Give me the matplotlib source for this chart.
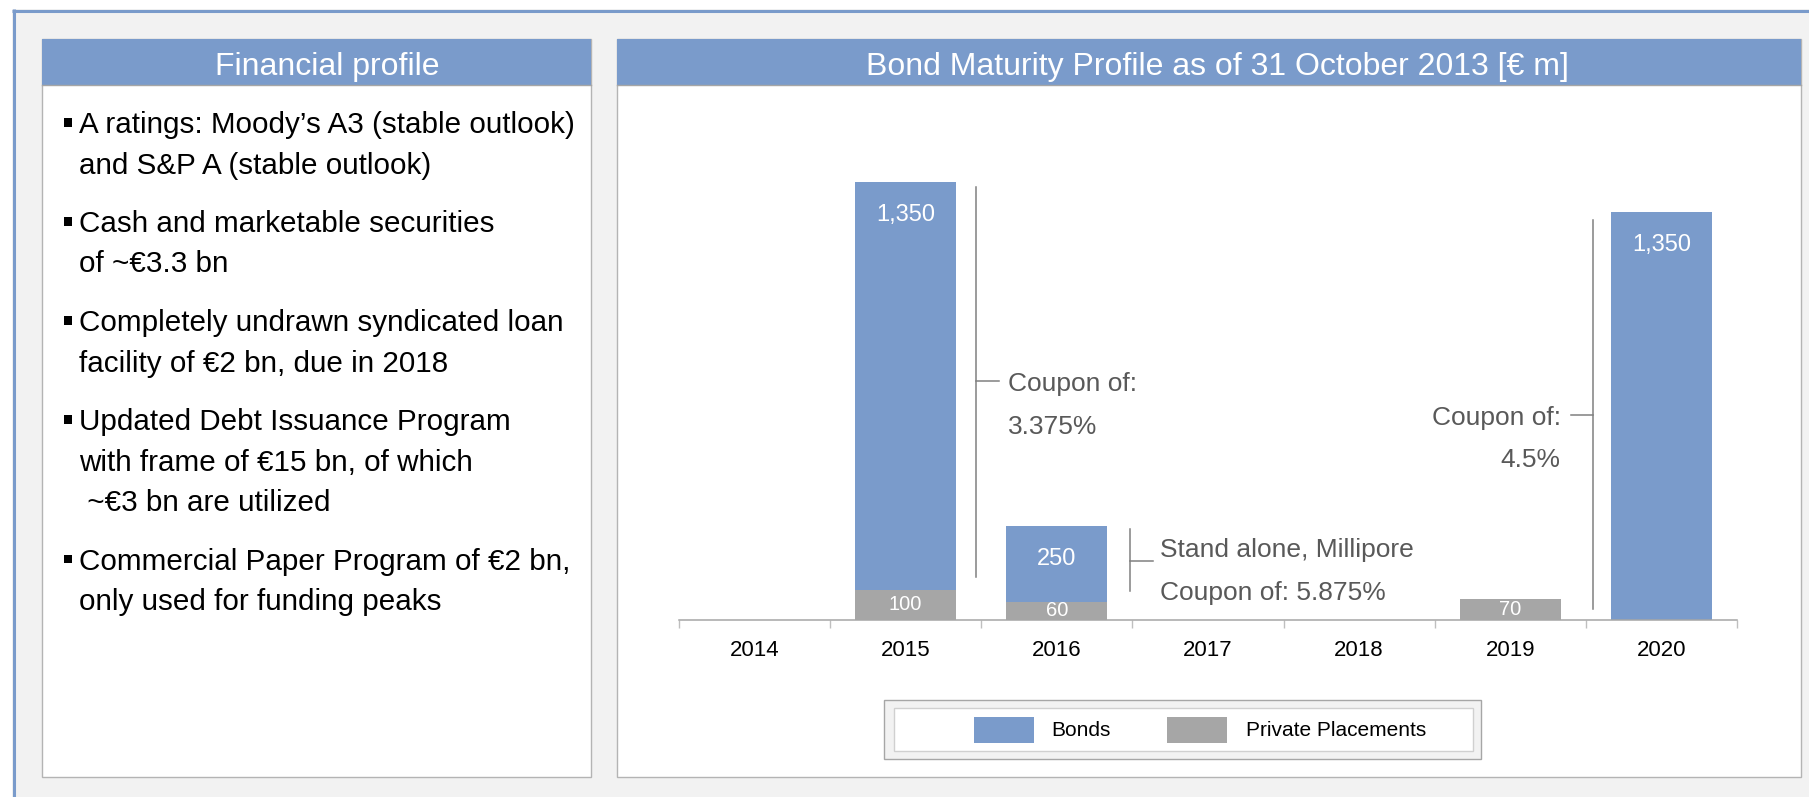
import numpy as np
import matplotlib.pyplot as plt
from matplotlib.patches import Rectangle

plt.rcParams['font.family'] = ['Liberation Sans', 'DejaVu Sans']

# Data
years = ['2014', '2015', '2016', '2017', '2018', '2019', '2020']
bonds = [0, 1350, 250, 0, 0, 0, 1350]
private_placements = [0, 100, 60, 0, 0, 70, 0]

profile_items = [
    ['A ratings: Moody\u2019s A3 (stable outlook)', 'and S&P A (stable outlook)'],
    ['Cash and marketable securities', 'of ~\u20ac3.3 bn'],
    ['Completely undrawn syndicated loan', 'facility of \u20ac2 bn, due in 2018'],
    ['Updated Debt Issuance Program', 'with frame of \u20ac15 bn, of which', ' ~\u20ac3 bn are utilized'],
    ['Commercial Paper Program of \u20ac2 bn,', 'only used for funding peaks'],
]

# Coupon brackets: (x, y_top, y_bottom, y_tick, x_tick_end, text lines, text x, text baselines, align)
brackets = [
    (1.468, 1432, 143, 792, 1.618, ['Coupon of:', '3.375%'], 1.677, [758, 616], 'left'),
    (2.483, 300, 96, 196, 2.635, ['Stand alone, Millipore', 'Coupon of: 5.875%'], 2.683, [210, 66], 'left'),
    (5.549, 1325, 35, 678, 5.401, ['Coupon of:', '4.5%'], 5.333, [646, 507], 'right'),
]

BLUE = '#7a9bcb'
GREY = '#a6a6a6'
W, H = 1809, 797

fig = plt.figure(figsize=(W / 100, H / 100), dpi=100)
fig.patch.set_facecolor('white')

# Background layer in pixel coordinates
bg = fig.add_axes([0, 0, 1, 1])
bg.set_xlim(0, W)
bg.set_ylim(H, 0)
bg.axis('off')

bg.add_patch(Rectangle((12, 9), W - 12, H - 9, facecolor='#f2f2f2', edgecolor='none'))
bg.plot([12, W], [10.5, 10.5], color=BLUE, lw=2.2, solid_capstyle='butt')
bg.plot([13.5, 13.5], [9, H], color=BLUE, lw=2.2, solid_capstyle='butt')

# Panels
for x0, x1, title, tx in [(41.5, 591, 'Financial profile', 327),
                          (617, 1801, 'Bond Maturity Profile as of 31 October 2013 [\u20ac m]', 1217)]:
    bg.add_patch(Rectangle((x0, 39), x1 - x0, 777 - 39, facecolor='white', edgecolor='#b4b4b4', lw=1))
    bg.add_patch(Rectangle((x0, 39), x1 - x0, 46, facecolor=BLUE, edgecolor='none'))
    bg.plot([x0, x1], [85, 85], color='#a6a6a6', lw=1)
    bg.text(tx, 75, title, color='white', fontsize=23, ha='center', va='baseline')

# Bullet list
y = 133
for item in profile_items:
    bg.add_patch(Rectangle((63.5, y - 15), 8, 8.5, facecolor='black', edgecolor='none'))
    for line in item:
        bg.text(79.3, y, line, fontsize=21.3, color='black', ha='left', va='baseline')
        y += 40.5
    y += 58.5 - 40.5

# Legend
bg.add_patch(Rectangle((884, 700), 597, 59, facecolor='#f2f2f2', edgecolor='#a6a6a6', lw=1))
bg.add_patch(Rectangle((894, 708), 579, 43, facecolor='white', edgecolor='#d0d0d0', lw=1))
bg.add_patch(Rectangle((974, 717), 60, 26, facecolor=BLUE, edgecolor='none'))
bg.text(1051, 731, 'Bonds', fontsize=15, ha='left', va='center')
bg.add_patch(Rectangle((1167, 717), 60, 26, facecolor=GREY, edgecolor='none'))
bg.text(1246, 731, 'Private Placements', fontsize=15, ha='left', va='center')

# Chart
ax = fig.add_axes([678.7 / W, 1 - 620 / H, (1737.1 - 678.7) / W, 520 / H])
ax.patch.set_visible(False)
x = np.arange(len(years))
bonds = np.array(bonds)
private_placements = np.array(private_placements)

ax.bar(x, private_placements, width=0.665, color=GREY, linewidth=0)
ax.bar(x, bonds, width=0.665, bottom=private_placements, color=BLUE, linewidth=0)

for i in x:
    if bonds[i] > 0:
        ax.annotate(f'{bonds[i]:,}', (i, bonds[i] + private_placements[i]), xytext=(0, -28),
                    textcoords='offset points', ha='center', va='baseline',
                    color='white', fontsize=17)
    if private_placements[i] > 0:
        ax.text(i, private_placements[i] / 2, f'{private_placements[i]:,}', ha='center',
                va='center', color='white', fontsize=14.5)

for bx, y0, y1, yt, xt, lines, tx, tys, align in brackets:
    ax.plot([bx, bx], [y0, y1], color='#808080', lw=1.1, clip_on=False)
    ax.plot([bx, xt], [yt, yt], color='#808080', lw=1.1, clip_on=False)
    for line, ty in zip(lines, tys):
        ax.text(tx, ty, line, ha=align, va='baseline', color='#595959', fontsize=19)

ax.set_xlim(-0.5, 6.5)
ax.set_ylim(0, 520 / 0.3021)
for side in ['top', 'right', 'left']:
    ax.spines[side].set_visible(False)
ax.spines['bottom'].set_color('#a6a6a6')
ax.spines['bottom'].set_linewidth(1.1)
ax.set_yticks([])
ax.set_xticks(x)
ax.set_xticklabels(years, fontsize=16)
ax.set_xticks(np.arange(-0.5, 7, 1), minor=True)
ax.tick_params(axis='x', which='major', length=0, pad=14.5)
ax.tick_params(axis='x', which='minor', length=5.5, color='#bfbfbf', width=1)

fig.savefig('out.png', dpi=100)
